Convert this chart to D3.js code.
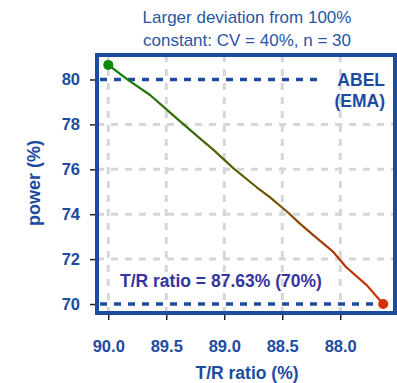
<!DOCTYPE html>
<html>
<head>
<meta charset="utf-8">
<script src="https://cdn.jsdelivr.net/npm/d3@7"></script>
<style>
  html, body { margin: 0; padding: 0; background: #fff; }
  svg { display: block; font-family: "Liberation Sans", Arial, sans-serif; }
</style>
</head>
<body>
<svg id="chart" width="397" height="383"></svg>
<script>
// T/R ratio (%) and resulting power (%)
const ratio = [90.00, 89.83, 89.64, 89.54, 89.41, 89.30, 89.21, 89.10, 88.92, 88.72, 88.61, 88.46, 88.35, 88.23, 88.06, 87.95, 87.77, 87.63];
const power = [80.65, 79.98, 79.31, 78.86, 78.27, 77.78, 77.38, 76.90, 76.04, 75.20, 74.77, 74.12, 73.59, 73.06, 72.32, 71.65, 70.83, 70.00];

const xTicks = [90.0, 89.5, 89.0, 88.5, 88.0];
const yTicks = [70, 72, 74, 76, 78, 80];

const blue = "#1d4b9f";
const svg = d3.select("#chart");
const L = 97, R = 395, T = 55, B = 313;

const x = d3.scaleLinear().domain([90.097, 87.528]).range([L, R]);
const y = d3.scaleLinear().domain([69.6, 81.09]).range([B, T]);

// grid
const grid = svg.append("g").attr("stroke", "#d6d6d6").attr("stroke-width", 3).attr("stroke-dasharray", "7,7");
grid.selectAll("line.v").data(xTicks).join("line")
  .attr("x1", d => x(d)).attr("x2", d => x(d)).attr("y1", T).attr("y2", B);
grid.selectAll("line.h").data(yTicks.filter(v => v !== 70 && v !== 80)).join("line")
  .attr("x1", L).attr("x2", R).attr("y1", d => y(d)).attr("y2", d => y(d));

// reference power levels
svg.append("line").attr("x1", L + 3).attr("x2", 318).attr("y1", y(80)).attr("y2", y(80))
  .attr("stroke", blue).attr("stroke-width", 3.5).attr("stroke-dasharray", "7,7");
svg.append("line").attr("x1", L + 3).attr("x2", x(87.63)).attr("y1", y(70)).attr("y2", y(70))
  .attr("stroke", blue).attr("stroke-width", 3.5).attr("stroke-dasharray", "7,7");

// axes
const yAxis = d3.axisLeft(y).tickValues(yTicks).tickSize(6).tickPadding(10).tickFormat(d3.format("d"));
const gy = svg.append("g").attr("transform", `translate(${L - 1},0)`).call(yAxis);
const xAxis = d3.axisBottom(x).tickValues(xTicks).tickSize(6).tickPadding(20).tickFormat(d3.format(".1f"));
const gx = svg.append("g").attr("transform", `translate(0,${B + 1})`).call(xAxis);
[gy, gx].forEach(g => {
  g.select(".domain").remove();
  g.selectAll(".tick line").attr("stroke", "#222").attr("stroke-width", 1.5);
  g.selectAll(".tick text").attr("fill", blue).attr("font-size", 16.5).attr("font-weight", "bold")
    .attr("font-family", "Liberation Sans, Arial, sans-serif");
});

// curve with green-to-red gradient
const defs = svg.append("defs");
const grad = defs.append("linearGradient").attr("id", "curveGrad")
  .attr("gradientUnits", "userSpaceOnUse")
  .attr("x1", x(90)).attr("x2", x(87.63)).attr("y1", 0).attr("y2", 0);
grad.append("stop").attr("offset", "0%").attr("stop-color", "#0a7f0a");
grad.append("stop").attr("offset", "50%").attr("stop-color", "#5e5c08");
grad.append("stop").attr("offset", "100%").attr("stop-color", "#d22a00");

const pts = ratio.map((r, i) => [r, power[i]]);
svg.append("path").datum(pts)
  .attr("d", d3.line().x(d => x(d[0])).y(d => y(d[1])))
  .attr("fill", "none").attr("stroke", "url(#curveGrad)").attr("stroke-width", 2.2)
  .attr("stroke-linejoin", "round");

svg.append("circle").attr("cx", x(ratio[0])).attr("cy", y(power[0])).attr("r", 5).attr("fill", "#0a8a0a");
svg.append("circle").attr("cx", x(ratio[ratio.length - 1])).attr("cy", y(power[power.length - 1])).attr("r", 5).attr("fill", "#d43000");

// frame
svg.append("rect").attr("x", L).attr("y", T).attr("width", R - L).attr("height", B - T)
  .attr("fill", "none").attr("stroke", blue).attr("stroke-width", 4);

// texts
const title = svg.append("text").attr("text-anchor", "middle").attr("fill", "#2a55a5").attr("font-size", 17);
title.append("tspan").attr("x", 247).attr("y", 23).text("Larger deviation from 100%");
title.append("tspan").attr("x", 247).attr("y", 46).text("constant: CV = 40%, n = 30");

const abel = svg.append("text").attr("text-anchor", "end").attr("fill", blue).attr("font-size", 17.5).attr("font-weight", "bold");
abel.append("tspan").attr("x", 385).attr("y", 86).text("ABEL");
abel.append("tspan").attr("x", 385).attr("y", 107).text("(EMA)");

svg.append("text").attr("x", 120).attr("y", 287).attr("fill", "#3535a0").attr("font-size", 17.5).attr("font-weight", "bold")
  .text("T/R ratio = 87.63% (70%)");

svg.append("text").attr("x", 247).attr("y", 379).attr("text-anchor", "middle").attr("fill", blue)
  .attr("font-size", 17.5).attr("font-weight", "bold").text("T/R ratio (%)");

svg.append("text").attr("transform", "translate(40,183) rotate(-90)").attr("text-anchor", "middle").attr("fill", blue)
  .attr("font-size", 18).attr("font-weight", "bold").text("power (%)");
</script>
</body>
</html>
